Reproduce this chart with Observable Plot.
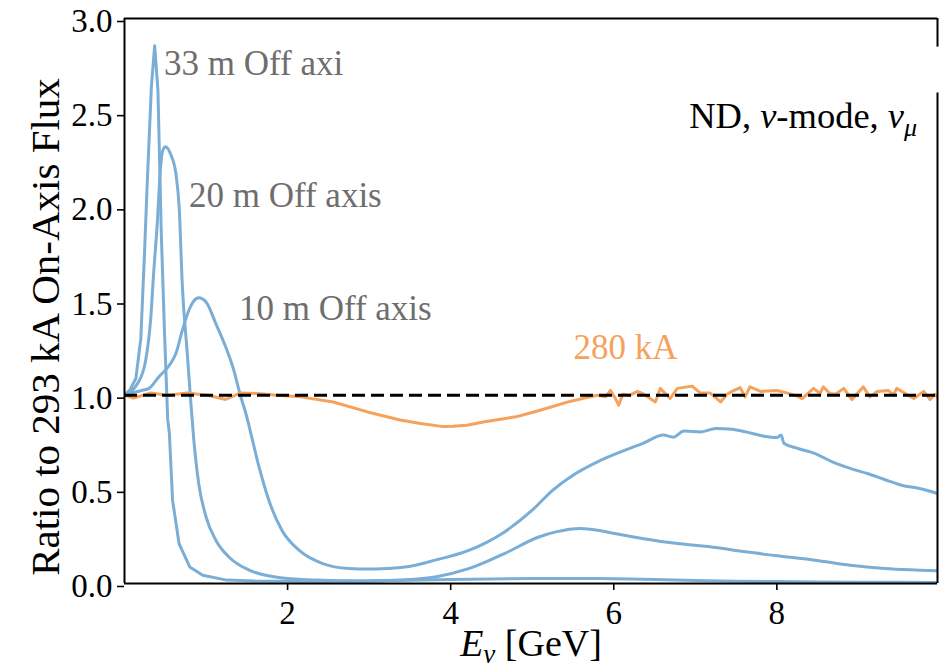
<!DOCTYPE html>
<html>
<head>
<meta charset="utf-8">
<script src="https://cdn.jsdelivr.net/npm/d3@7"></script>
<script src="https://cdn.jsdelivr.net/npm/@observablehq/plot@0.6"></script>
<style>
  html, body { margin: 0; padding: 0; background: #fff; }
  #chart svg { display: block; }
</style>
</head>
<body>
<div id="chart"></div>
<script>
// ---- data: [E_nu (GeV), ratio to 293 kA on-axis flux] ----
const offAxis33 = [
  [0.0, 1.0], [0.07, 1.03], [0.14, 1.09], [0.2, 1.3], [0.245, 1.75], [0.28, 2.14], [0.33, 2.64],
  [0.37, 2.855], [0.41, 2.62], [0.45, 1.876], [0.49, 1.34], [0.53, 0.87], [0.55, 0.8],
  [0.59, 0.44], [0.67, 0.21], [0.8, 0.088], [0.96, 0.044], [1.25, 0.018], [1.6, 0.013],
  [2.0, 0.012], [2.5, 0.012], [3.0, 0.014], [3.5, 0.017], [4.0, 0.021], [4.5, 0.024],
  [5.0, 0.026], [5.5, 0.027], [5.8, 0.027], [6.2, 0.024], [6.5, 0.021], [7.0, 0.016],
  [7.5, 0.012], [8.0, 0.01], [8.5, 0.008], [9.0, 0.007], [9.5, 0.006], [9.97, 0.005]
];
const offAxis20 = [
  [0.0, 1.0], [0.16, 1.062], [0.26, 1.186], [0.32, 1.398], [0.36, 1.664], [0.4, 1.9],
  [0.44, 2.195], [0.46, 2.284], [0.5, 2.319], [0.57, 2.275], [0.63, 2.177], [0.67, 2.0],
  [0.71, 1.575], [0.77, 1.221], [0.81, 0.98], [0.85, 0.761], [0.91, 0.531], [1.0, 0.354],
  [1.12, 0.23], [1.28, 0.141], [1.53, 0.071], [1.85, 0.035], [2.34, 0.018], [2.96, 0.012],
  [3.39, 0.018], [3.81, 0.035], [4.23, 0.08], [4.66, 0.159], [5.08, 0.247], [5.29, 0.274],
  [5.59, 0.292], [5.8, 0.283], [6.01, 0.265], [6.35, 0.239], [6.78, 0.212], [7.2, 0.194],
  [7.62, 0.168], [8.05, 0.145], [8.47, 0.124], [8.9, 0.097], [9.32, 0.08], [9.75, 0.071],
  [9.97, 0.067]
];
const offAxis10 = [
  [0.0, 1.0], [0.22, 1.026], [0.3, 1.036], [0.42, 1.097], [0.55, 1.159], [0.63, 1.221],
  [0.71, 1.345], [0.79, 1.451], [0.85, 1.5], [0.91, 1.517], [1.0, 1.495], [1.12, 1.38],
  [1.24, 1.257], [1.34, 1.133], [1.42, 1.0], [1.49, 0.9], [1.53, 0.832], [1.65, 0.619],
  [1.77, 0.442], [1.93, 0.283], [2.14, 0.177], [2.43, 0.106], [2.75, 0.08], [3.0, 0.077],
  [3.16, 0.078], [3.39, 0.085], [3.57, 0.097], [3.81, 0.124], [4.23, 0.177], [4.66, 0.274],
  [5.0, 0.389], [5.25, 0.495], [5.5, 0.575], [5.8, 0.646], [6.14, 0.708], [6.35, 0.743],
  [6.61, 0.788], [6.73, 0.777], [6.86, 0.81], [7.07, 0.805], [7.25, 0.823], [7.45, 0.819],
  [7.62, 0.805], [7.84, 0.782], [8.0, 0.775], [8.05, 0.788], [8.09, 0.743], [8.26, 0.717],
  [8.47, 0.69], [8.68, 0.646], [8.9, 0.611], [9.11, 0.584], [9.32, 0.552], [9.53, 0.522],
  [9.75, 0.504], [9.97, 0.478]
];
const current280 = [
  [0.0, 1.0], [0.11, 0.984], [0.32, 1.012], [0.53, 1.0], [0.77, 1.012], [1.02, 1.0],
  [1.24, 0.977], [1.42, 1.012], [1.63, 1.009], [1.87, 1.0], [2.16, 0.991], [2.56, 0.964],
  [2.98, 0.911], [3.38, 0.868], [3.63, 0.85], [3.91, 0.833], [4.03, 0.835], [4.2, 0.84],
  [4.4, 0.858], [4.61, 0.872], [4.8, 0.885], [5.02, 0.911], [5.22, 0.936], [5.43, 0.963],
  [5.63, 0.984], [5.8, 1.0], [5.9, 0.991], [5.96, 1.025], [6.02, 0.982], [6.06, 0.947],
  [6.11, 1.005], [6.2, 1.0], [6.29, 1.02], [6.37, 1.005], [6.51, 0.964], [6.57, 1.036],
  [6.69, 0.982], [6.78, 1.036], [6.96, 1.048], [7.06, 1.012], [7.18, 1.012], [7.31, 0.964],
  [7.39, 1.005], [7.45, 1.02], [7.55, 1.04], [7.61, 0.991], [7.67, 1.044], [7.8, 1.02],
  [8.0, 1.025], [8.12, 1.012], [8.25, 0.995], [8.31, 0.982], [8.45, 1.036], [8.53, 1.009],
  [8.57, 1.044], [8.65, 1.009], [8.72, 1.005], [8.82, 1.036], [8.92, 0.977], [9.06, 1.044],
  [9.14, 0.991], [9.23, 1.02], [9.37, 1.025], [9.43, 1.0], [9.47, 1.036], [9.59, 1.005],
  [9.68, 0.982], [9.8, 1.02], [9.88, 0.977], [9.94, 1.005], [9.97, 0.99]
];
const referenceLevel = [1.0];
const xTicks = [2, 4, 6, 8];
const yTicks = [0, 0.5, 1.0, 1.5, 2.0, 2.5, 3.0];
const xDomain = [0, 9.97];
const yDomain = [0, 3];
const labelTexts = ["33 m Off axi", "20 m Off axis", "10 m Off axis", "280 kA", "ND, ν-mode, νμ"];
const labelX = [0.485, 0.79, 1.403, 5.505, 9.72];
const labelY = [2.758, 2.057, 1.457, 1.25, 2.483];
const labelKind = ["gray", "gray", "gray", "orange", "black"];
const rightSpineY1 = [0, 2.848];
const rightSpineY2 = [2.604, 3.0];
const yLabel = "Ratio to 293 kA On-Axis Flux";
const xLabel = "Eν [GeV]";

// ---- styles ----
const blue = "#7aaed6";
const orange = "#f5a25d";
const gray = "#6e6e6e";
const colorOf = {gray: gray, orange: orange, black: "#000"};

const rows = (pairs) => pairs.map(([x, y]) => ({x, y}));
const labels = labelTexts.map((t, i) => ({t, x: labelX[i], y: labelY[i], kind: labelKind[i]}));
const spine = rightSpineY1.map((y1, i) => ({y1, y2: rightSpineY2[i]}));

const plot = Plot.plot({
  width: 940,
  height: 670,
  marginLeft: 124,
  marginRight: 3,
  marginTop: 18,
  marginBottom: 87,
  style: {fontFamily: "'Liberation Serif', 'Times New Roman', serif", fontSize: "33px", color: "#000", background: "#fff", overflow: "visible"},
  x: {domain: xDomain},
  y: {domain: yDomain},
  marks: [
    Plot.line(rows(offAxis33), {x: "x", y: "y", stroke: blue, strokeWidth: 3, clip: true}),
    Plot.line(rows(offAxis20), {x: "x", y: "y", stroke: blue, strokeWidth: 3, curve: "monotone-x", clip: true}),
    Plot.line(rows(offAxis10), {x: "x", y: "y", stroke: blue, strokeWidth: 3, curve: "monotone-x", clip: true}),
    Plot.line(rows(current280), {x: "x", y: "y", stroke: orange, strokeWidth: 3, clip: true}),
    Plot.ruleY(referenceLevel, {stroke: "#000", strokeWidth: 3, strokeDasharray: "13,6"}),
    Plot.text(labels.filter(d => d.kind !== "black"), {x: "x", y: "y", text: "t", fill: d => colorOf[d.kind], textAnchor: "start", lineAnchor: "middle", fontSize: 35}),
    Plot.text(labels.filter(d => d.kind === "black"), {x: "x", y: "y", text: "t", fill: "#000", textAnchor: "end", lineAnchor: "middle", fontSize: 36.5}),
    // spines
    Plot.ruleX([xDomain[0]], {stroke: "#000", strokeWidth: 2}),
    Plot.ruleY([yDomain[0]], {stroke: "#000", strokeWidth: 2}),
    Plot.ruleY([yDomain[1]], {stroke: "#000", strokeWidth: 2}),
    Plot.ruleX(spine, {x: () => xDomain[1], y1: "y1", y2: "y2", stroke: "#000", strokeWidth: 2}),
    // axes
    Plot.axisX({ticks: xTicks, tickSize: 7, tickPadding: 10, fontSize: 33, strokeWidth: 1.6, label: null, tickFormat: d => String(d)}),
    Plot.axisY({ticks: yTicks, tickSize: 7, tickPadding: 5, fontSize: 33, strokeWidth: 1.6, label: null, dy: 3, tickFormat: d => d.toFixed(1)}),
    Plot.text([yLabel], {frameAnchor: "left", text: d => d, rotate: -90, textAnchor: "middle", lineAnchor: "middle", dx: -79, dy: 26, fontSize: 41, fill: "#000"}),
    Plot.text([xLabel], {frameAnchor: "bottom", text: d => d, textAnchor: "middle", lineAnchor: "middle", dy: 60, fontSize: 38, fill: "#000"})
  ]
});

document.getElementById("chart").appendChild(plot);

// rich text (italic Greek, subscripts)
function richify(svg, plain, parts) {
  svg.querySelectorAll("text").forEach(el => {
    if (el.textContent === plain) {
      while (el.firstChild) el.removeChild(el.firstChild);
      let shift = 0;
      for (const p of parts) {
        const ts = document.createElementNS("http://www.w3.org/2000/svg", "tspan");
        ts.textContent = p.t;
        if (p.italic) ts.setAttribute("font-style", "italic");
        const target = p.sub ? p.sub : 0;
        if (target !== shift) { ts.setAttribute("dy", (target - shift) + "px"); shift = target; }
        if (p.size) ts.setAttribute("font-size", p.size);
        el.appendChild(ts);
      }
    }
  });
}
richify(plot, "ND, ν-mode, νμ", [
  {t: "ND, "}, {t: "ν", italic: true}, {t: "-mode, "}, {t: "ν", italic: true},
  {t: "μ", italic: true, sub: 8, size: "26px"}
]);
richify(plot, xLabel, [
  {t: "E", italic: true}, {t: "ν", italic: true, sub: 7, size: "27px"}, {t: " [GeV]"}
]);
</script>
</body>
</html>
